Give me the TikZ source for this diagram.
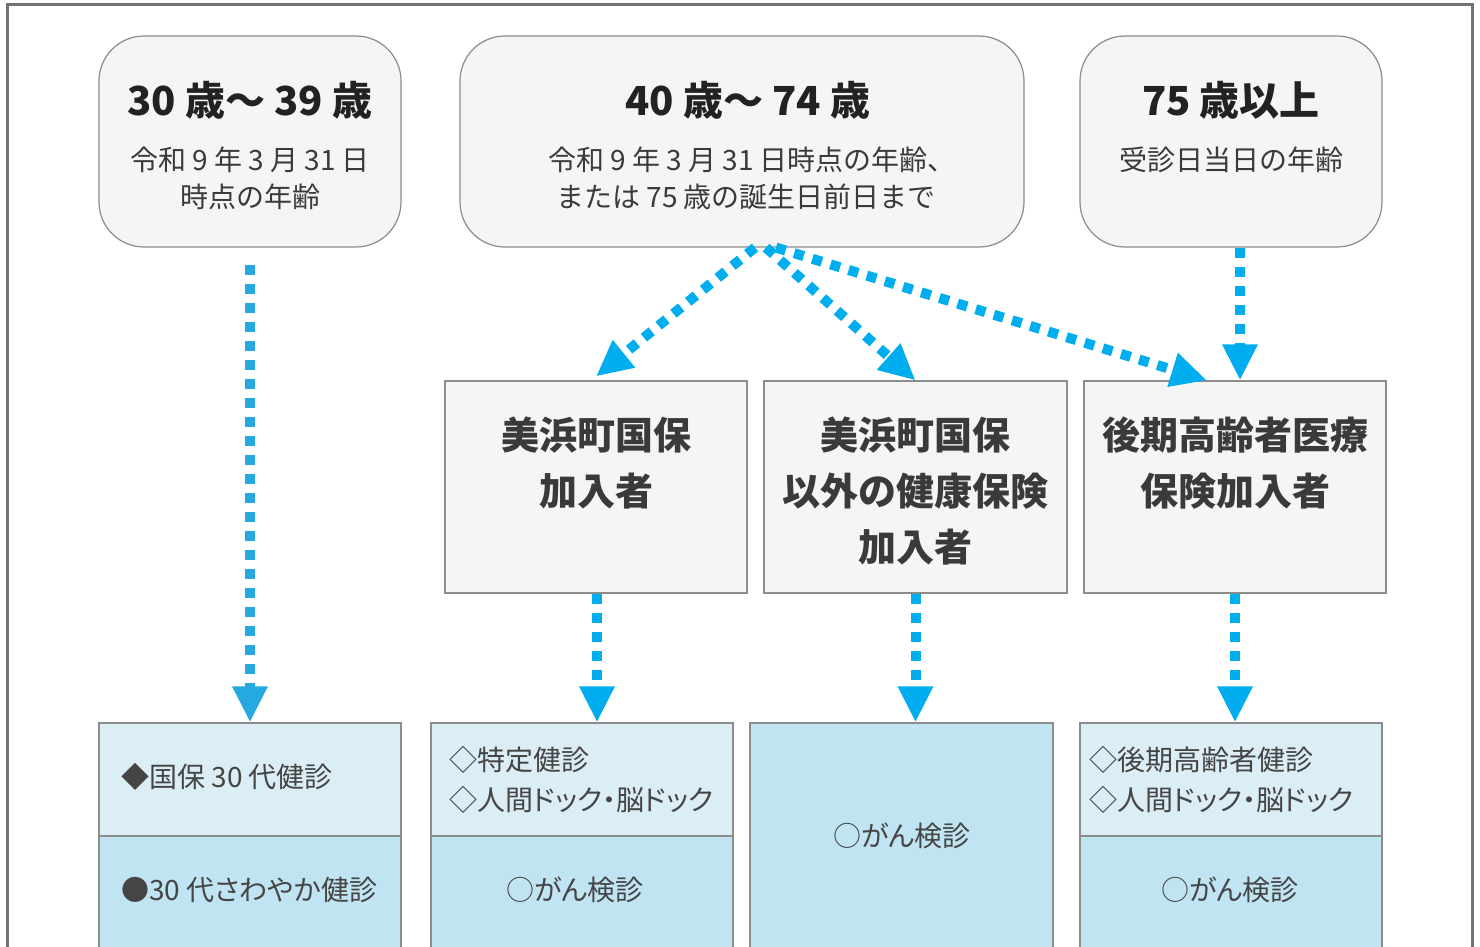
\documentclass[tikz,border=0pt]{standalone}
\usepackage{fontspec}
\setmainfont{Noto Sans CJK JP}
\newfontfamily\examfont{Noto Sans CJK JP}[RawFeature=+palt]
\usetikzlibrary{arrows.meta}
\definecolor{arrowc}{HTML}{00AEEF}
\definecolor{arrowd}{HTML}{26A9E0}
\definecolor{boxfill}{HTML}{F5F5F5}
\definecolor{boxline}{HTML}{8C8C8C}
\definecolor{lightblue}{HTML}{DBEDF5}
\definecolor{midblue}{HTML}{C1E4F3}
\definecolor{framec}{HTML}{737373}
\definecolor{txt}{HTML}{222222}
\definecolor{txtsub}{HTML}{3A3A3A}
\definecolor{txtb}{HTML}{454545}
\tikzset{
  agebox/.style={draw=boxline, line width=1.2pt, fill=boxfill, rounded corners=45pt, inner sep=0pt, minimum height=211pt},
  catbox/.style={draw=boxline, line width=1.2pt, fill=boxfill, inner sep=0pt, minimum height=212pt},
  examlight/.style={draw=boxline, line width=1.2pt, fill=lightblue, inner sep=0pt},
  examdark/.style={draw=boxline, line width=1.2pt, fill=midblue, inner sep=0pt},
  flow/.style={draw=arrowc, line width=10pt, dash pattern=on 10pt off 9pt, -{Triangle[length=36pt,width=33pt]}},
  agetitle/.style={inner sep=0pt, text=txt, font=\fontsize{40}{48}\selectfont\bfseries},
  agesub/.style={inner sep=0pt, text=txtsub, font=\fontsize{28}{32}\selectfont},
  cattext/.style={inner sep=0pt, text=txtsub, font=\fontsize{38}{44}\selectfont\bfseries},
  examtext/.style={inner sep=0pt, text=txtb, font=\fontsize{28}{32}\selectfont\examfont},
}
\begin{document}
\begin{tikzpicture}[x=1pt,y=-1pt]
\useasboundingbox[fill=white] (0,0) rectangle (1480,947);
% outer frame
\draw[framec, line width=3pt] (7,960) -- (7,5) -- (1472,5) -- (1472,960);

% top age boxes
\node[agebox, minimum width=302pt] (top1) at (250,141.5) {};
\node[agebox, minimum width=564pt] (top2) at (742,141.5) {};
\node[agebox, minimum width=302pt] (top3) at (1231,141.5) {};

\node[agetitle] (t1a) at (250,100) {30 歳～ 39 歳};
\node[agesub] (t1b) at (250,160) {令和 9 年 3 月 31 日};
\node[agesub] (t1c) at (250,197) {時点の年齢};

\node[agetitle] (t2a) at (748,100) {40 歳～ 74 歳};
\node[agesub] (t2b) at (752,160) {令和 9 年 3 月 31 日時点の年齢、};
\node[agesub] (t2c) at (746,197) {または 75 歳の誕生日前日まで};

\node[agetitle] (t3a) at (1231,100) {75 歳以上};
\node[agesub] (t3b) at (1231,160) {受診日当日の年齢};

% category boxes
\node[catbox, minimum width=302pt] (mid1) at (596,487) {};
\node[catbox, minimum width=303pt] (mid2) at (915.5,487) {};
\node[catbox, minimum width=302pt] (mid3) at (1235,487) {};

\node[cattext] (m1a) at (596,435) {美浜町国保};
\node[cattext] (m1b) at (596,491) {加入者};
\node[cattext] (m2a) at (915,435) {美浜町国保};
\node[cattext] (m2b) at (915,491) {以外の健康保険};
\node[cattext] (m2c) at (915,547) {加入者};
\node[cattext] (m3a) at (1235,435) {後期高齢者医療};
\node[cattext] (m3b) at (1235,491) {保険加入者};

% exam boxes
\node[examlight, minimum width=302pt, minimum height=113pt] (b1top) at (250,779.5) {};
\node[examdark, minimum width=302pt, minimum height=124pt] (b1bot) at (250,898) {};
\node[examlight, minimum width=302pt, minimum height=113pt] (b2top) at (582,779.5) {};
\node[examdark, minimum width=302pt, minimum height=124pt] (b2bot) at (582,898) {};
\node[examdark, minimum width=303pt, minimum height=237pt] (b3) at (901.5,841.5) {};
\node[examlight, minimum width=302pt, minimum height=113pt] (b4top) at (1231,779.5) {};
\node[examdark, minimum width=302pt, minimum height=124pt] (b4bot) at (1231,898) {};

\node[examtext, anchor=west] (e1a) at (121,777) {◆国保 30 代健診};
\node[examtext, anchor=west] (e1b) at (121,890) {●30 代さわやか健診};
\node[examtext, anchor=west] (e2a) at (449,760) {◇特定健診};
\node[examtext, anchor=west] (e2b) at (449,800) {◇人間ドック・脳ドック};
\node[examtext] (e2c) at (575,890) {○がん検診};
\node[examtext] (e3a) at (902,836) {○がん検診};
\node[examtext, anchor=west] (e4a) at (1089,760) {◇後期高齢者健診};
\node[examtext, anchor=west] (e4b) at (1089,800) {◇人間ドック・脳ドック};
\node[examtext] (e4c) at (1230,890) {○がん検診};

% connectors
\coordinate (s1) at (250,265);
\draw[flow, draw=arrowd, -{Triangle[length=36pt,width=33pt,fill=arrowd]}] (s1) -- (b1top.north);
\draw[flow] ([xshift=13pt]top2.south) -- ([yshift=4pt]mid1.north);
\draw[flow] ([xshift=24pt]top2.south) -- (mid2.north);
\draw[flow] ([xshift=34pt]top2.south) -- ([xshift=-28pt]mid3.north);
\draw[flow] ([xshift=9pt]top3.south) -- ([xshift=9pt]top3.south |- mid3.north);
\draw[flow] ([xshift=1pt]mid1.south) -- ([xshift=1pt]mid1.south |- b2top.north);
\draw[flow] (mid2.south) -- (mid2.south |- b3.north);
\draw[flow] (mid3.south) -- (mid3.south |- b4top.north);
\end{tikzpicture}
\end{document}
